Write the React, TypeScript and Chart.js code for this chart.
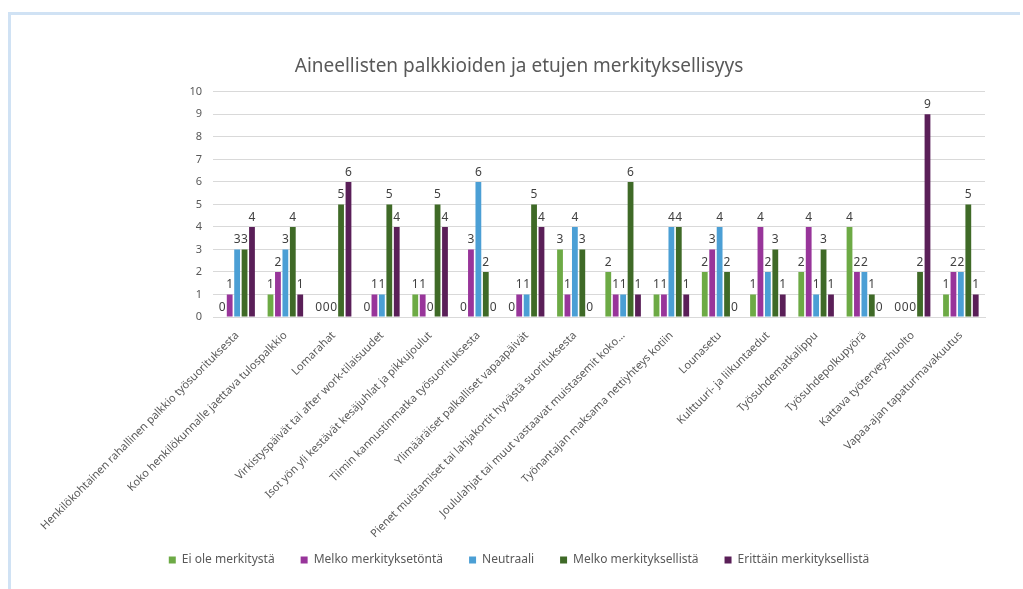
import React, { useEffect, useRef } from "react";
import { Chart, registerables } from "chart.js";

Chart.register(...registerables);

const categories: string[] = [
  "Henkilökohtainen rahallinen palkkio työsuorituksesta",
  "Koko henkilökunnalle jaettava tulospalkkio",
  "Lomarahat",
  "Virkistyspäivät tai after work-tilaisuudet",
  "Isot yön yli kestävät kesäjuhlat ja pikkujoulut",
  "Tiimin kannustinmatka työsuorituksesta",
  "Ylimääräiset palkalliset vapaapäivät",
  "Pienet muistamiset tai lahjakortit hyvästä suorituksesta",
  "Joululahjat tai muut vastaavat muistasemit koko…",
  "Työnantajan maksama nettiyhteys kotiin",
  "Lounasetu",
  "Kulttuuri- ja liikuntaedut",
  "Työsuhdematkalippu",
  "Työsuhdepolkupyörä",
  "Kattava työterveyshuolto",
  "Vapaa-ajan tapaturmavakuutus",
];

const eiOleMerkitysta: number[] = [0, 1, 0, 0, 1, 0, 0, 3, 2, 1, 2, 1, 2, 4, 0, 1];
const melkoMerkitykseton: number[] = [1, 2, 0, 1, 1, 3, 1, 1, 1, 1, 3, 4, 4, 2, 0, 2];
const neutraali: number[] = [3, 3, 0, 1, 0, 6, 1, 4, 1, 4, 4, 2, 1, 2, 0, 2];
const melkoMerkityksellista: number[] = [3, 4, 5, 5, 5, 2, 5, 3, 6, 4, 2, 3, 3, 1, 2, 5];
const erittainMerkityksellista: number[] = [4, 1, 6, 4, 4, 0, 4, 0, 1, 1, 0, 1, 1, 0, 9, 1];

const seriesNames: string[] = [
  "Ei ole merkitystä",
  "Melko merkityksetöntä",
  "Neutraali",
  "Melko merkityksellistä",
  "Erittäin merkityksellistä",
];
const seriesColors: string[] = ["#6DAA45", "#98359A", "#4B9FD5", "#3F6A27", "#5A1F58"];

const yTicks: number[] = [0, 1, 2, 3, 4, 5, 6, 7, 8, 9, 10];

const FONT = '"Noto Sans", sans-serif';

const valueLabels = {
  id: "valueLabels",
  afterDatasetsDraw(chart: any) {
    const ctx = chart.ctx;
    ctx.save();
    ctx.font = `12px ${FONT}`;
    ctx.fillStyle = "#404040";
    ctx.textAlign = "center";
    ctx.textBaseline = "alphabetic";
    chart.data.datasets.forEach((ds: any, i: number) => {
      const meta = chart.getDatasetMeta(i);
      meta.data.forEach((bar: any, j: number) => {
        ctx.fillText(String(ds.data[j]), bar.x, bar.y - 6);
      });
    });
    ctx.restore();
  },
};

export default function App() {
  const ref = useRef<HTMLCanvasElement | null>(null);

  useEffect(() => {
    if (!ref.current) return;
    const allSeries = [
      eiOleMerkitysta,
      melkoMerkitykseton,
      neutraali,
      melkoMerkityksellista,
      erittainMerkityksellista,
    ];
    const chart = new Chart(ref.current, {
      type: "bar",
      data: {
        labels: categories,
        datasets: allSeries.map((d, i) => ({
          label: seriesNames[i],
          data: d,
          backgroundColor: seriesColors[i],
          borderWidth: 0,
          categoryPercentage: 0.77,
          barPercentage: 0.78,
          yAxisID: "y",
        })),
      },
      options: {
        animation: false,
        responsive: false,
        maintainAspectRatio: false,
        layout: { padding: { left: 15, right: 0, top: 0, bottom: 13 } },
        font: { family: FONT },
        plugins: {
          title: {
            display: true,
            text: "Aineellisten palkkioiden ja etujen merkityksellisyys",
            color: "#595959",
            font: { family: FONT, size: 19, weight: "normal" },
            padding: { top: 55, bottom: 14 },
          },
          legend: {
            position: "bottom",
            labels: {
              boxWidth: 7,
              boxHeight: 7,
              padding: 26,
              color: "#595959",
              font: { family: FONT, size: 12 },
            },
          },
          tooltip: { enabled: false },
        },
        scales: {
          x: {
            grid: { display: false },
            border: { display: true, color: "#d9d9d9" },
            afterFit: (scale: any) => {
              scale.height = 211;
              scale._computeLabelArea = () => undefined;
            },
            ticks: {
              autoSkip: false,
              maxRotation: 45,
              minRotation: 45,
              color: "#595959",
              padding: 4,
              font: { family: FONT, size: 11 },
            },
          },
          y: {
            position: "left",
            min: 0,
            max: 10,
            afterFit: (scale: any) => {
              scale.width = 198;
            },
            afterBuildTicks: (scale: any) => {
              scale.ticks = yTicks.map((v) => ({ value: v }));
            },
            grid: { color: "#d9d9d9", drawTicks: false },
            border: { display: false },
            ticks: {
              padding: 11,
              color: "#595959",
              font: { family: FONT, size: 11 },
            },
          },
          yRight: {
            position: "right",
            display: true,
            min: 0,
            max: 10,
            afterFit: (scale: any) => {
              scale.width = 38;
            },
            grid: { display: false, drawTicks: false },
            border: { display: false },
            ticks: { display: false },
          },
        },
      },
      plugins: [valueLabels],
    } as any);
    return () => chart.destroy();
  }, []);

  return (
    <>
      <div
        style={{
          position: "fixed",
          left: 8,
          top: 12,
          width: 1012,
          height: 577,
          borderLeft: "3px solid #d0e2f4",
          borderTop: "3px solid #d0e2f4",
          boxSizing: "border-box",
        }}
      />
      <canvas
        ref={ref}
        width={1023}
        height={589}
        style={{ position: "fixed", left: 0, top: 0, width: 1023, height: 589 }}
      />
    </>
  );
}
